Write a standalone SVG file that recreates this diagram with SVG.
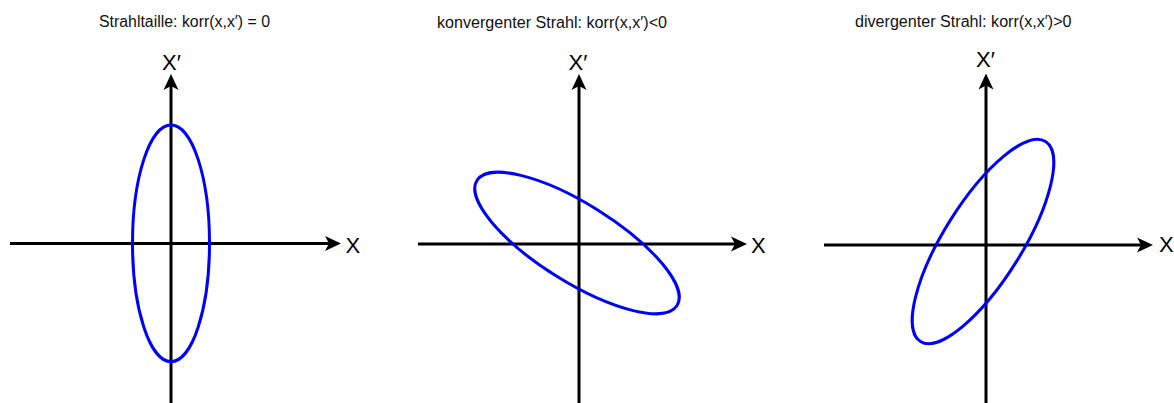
<svg xmlns="http://www.w3.org/2000/svg" width="1174" height="403" viewBox="0 0 1174 403">
  <style>
    .axis { stroke: #000; stroke-width: 3; fill: none; marker-end: url(#arrow); }
    .beam { stroke: #0000ff; stroke-width: 3; fill: none; }
    .title { font-family: "Liberation Sans", Arial, sans-serif; font-size: 16px; fill: #111; }
    .lbl { font-family: "Liberation Sans", Arial, sans-serif; font-size: 22px; fill: #000; }
  </style>
  <defs>
    <marker id="arrow" markerUnits="userSpaceOnUse" viewBox="-16 -8 16 16" refX="-12" refY="0" markerWidth="16" markerHeight="16" orient="auto">
      <path d="M0,0 L-16,-7.5 L-12,0 L-16,7.5 Z" fill="#000"/>
    </marker>
  </defs>

  <g id="connectors">
    <line class="axis" x1="10" y1="243.5" x2="329" y2="243.5"/>
    <line class="axis" x1="171" y1="404" x2="171" y2="86"/>
    <line class="axis" x1="418" y1="244" x2="735" y2="244"/>
    <line class="axis" x1="579" y1="404" x2="579" y2="86"/>
    <line class="axis" x1="824" y1="245" x2="1141" y2="245"/>
    <line class="axis" x1="986" y1="404" x2="986" y2="85.5"/>
  </g>

  <g id="panel-waist">
    <text class="title" x="99" y="26.5" textLength="171" lengthAdjust="spacingAndGlyphs">Strahltaille: korr(x,x′) = 0</text>
    <text class="lbl" x="162" y="69.5">X′</text>
    <text class="lbl" x="345.5" y="252.5">X</text>
    <ellipse class="beam" cx="171" cy="243.3" rx="38.5" ry="118.3"/>
  </g>

  <g id="panel-convergent">
    <text class="title" x="437" y="28.3" textLength="230" lengthAdjust="spacingAndGlyphs">konvergenter Strahl: korr(x,x′)&lt;0</text>
    <text class="lbl" x="568.5" y="69.5">X′</text>
    <text class="lbl" x="751" y="252.5">X</text>
    <ellipse class="beam" cx="0" cy="0" rx="118" ry="39" transform="translate(577 243) rotate(32)"/>
  </g>

  <g id="panel-divergent">
    <text class="title" x="855" y="26.7" textLength="216.5" lengthAdjust="spacingAndGlyphs">divergenter Strahl: korr(x,x′)&gt;0</text>
    <text class="lbl" x="976" y="67">X′</text>
    <text class="lbl" x="1159" y="252">X</text>
    <ellipse class="beam" cx="0" cy="0" rx="118" ry="39" transform="translate(983 241.5) rotate(-58)"/>
  </g>
</svg>
